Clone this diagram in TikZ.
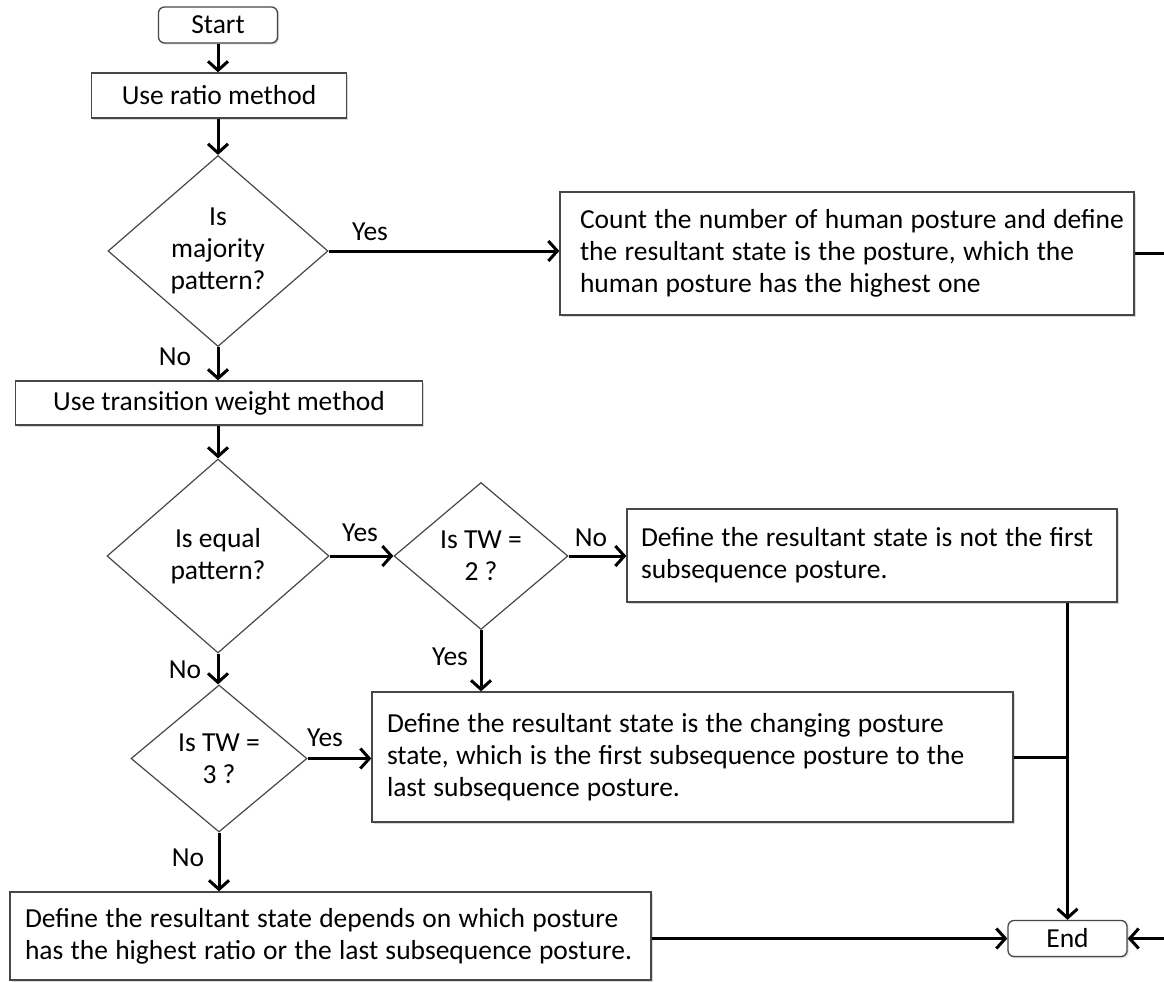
\documentclass[tikz,border=0pt]{standalone}
\usepackage{fontspec}
\setmainfont{Carlito}
\usetikzlibrary{shapes.geometric,arrows.meta,shadows}

% one unbreakable line of box text, with slightly tighter word spacing
\newcommand{\oneline}[1]{\mbox{\spaceskip=0.265em\relax #1}}

\begin{document}
\begin{tikzpicture}[x=1pt,y=-1pt,
  every node/.style={font=\fontsize{27.5}{32}\selectfont, text=black},
  shade box/.style={drop shadow={shadow xshift=1.5pt,shadow yshift=-1.5pt,opacity=0.3}},
  box/.style={rectangle, draw=black!72, line width=1.3pt, fill=white, inner ysep=0pt, shade box},
  termbox/.style={box, rounded corners=6pt, minimum width=119pt, minimum height=36pt, inner xsep=0pt},
  stepbox/.style={box, inner xsep=0pt, align=center},
  textbox/.style={box, inner xsep=15pt, align=left},
  decision/.style={diamond, draw=black!72, line width=1.2pt, fill=white, inner sep=0pt, align=center},
  lbl/.style={inner sep=0pt},
  line/.style={draw=black, line width=3pt},
  arr/.style={line, -{Straight Barb[length=9pt,width=20pt]}}
]
% canvas
\path[use as bounding box, fill=white] (0,0) rectangle (1164,982);
\clip (0,0) rectangle (1164,982);

% terminals and process steps
\node[termbox] (start) at (218,25) {Start};
\node[stepbox, minimum width=255pt, minimum height=45pt] (ratio) at (219,95.5) {Use ratio method};
\node[decision, minimum width=220pt, minimum height=191pt] (d1) at (218,251) {Is\\majority\\pattern?};
\node[textbox, inner xsep=20pt, minimum width=574pt, text width=534pt, minimum height=123pt] (count) at (847,253.5)
  {\oneline{Count the number of human posture and define}\\
   \oneline{the resultant state is the posture, which the}\\
   \oneline{human posture has the highest one}};
\node[stepbox, minimum width=407pt, minimum height=44pt] (trans) at (219,403) {Use transition weight method};
\node[decision, minimum width=222pt, minimum height=194pt] (d2) at (218,556) {Is equal\\pattern?};
\node[decision, minimum width=174pt, minimum height=147pt] (d3) at (481,556) {Is TW =\\2 ?};
\node[textbox, inner xsep=14pt, minimum width=490pt, text width=462pt, minimum height=93pt] (notfirst) at (872,555.5)
  {\oneline{Define the resultant state is not the first}\\
   \oneline{subsequence posture.}};
\node[decision, minimum width=176pt, minimum height=147pt] (d4) at (219,758.5) {Is TW =\\3 ?};
\node[textbox, minimum width=641pt, text width=611pt, minimum height=130pt] (changing) at (692.5,757)
  {\oneline{Define the resultant state is the changing posture}\\
   \oneline{state, which is the first subsequence posture to the}\\
   \oneline{last subsequence posture.}};
\node[textbox, minimum width=641pt, text width=611pt, minimum height=88pt] (bottom) at (330.5,936)
  {\oneline{Define the resultant state depends on which posture}\\
   \oneline{has the highest ratio or the last subsequence posture.}};
\node[termbox] (end) at (1067.5,938.5) {End};

% branch labels
\node[lbl] (yes1) at (370,232) {Yes};
\node[lbl] (no1) at (175,357) {No};
\node[lbl] (yes2) at (360,533) {Yes};
\node[lbl] (no2) at (591,538) {No};
\node[lbl] (yes3) at (450,657) {Yes};
\node[lbl] (no3) at (185,670) {No};
\node[lbl] (yes4) at (325,738) {Yes};
\node[lbl] (no4) at (188,858) {No};

% rail on the right side, beyond the visible edge
\coordinate (rail) at (1190,600);

% connectors
\draw[arr] (start.south) -- (start.south |- ratio.north);
\draw[arr] (d1.north |- ratio.south) -- (d1.north);
\draw[arr] (d1.east) -- (d1.east -| count.west);
\draw[arr] (d1.south) -- (d1.south |- trans.north);
\draw[arr] (d2.north |- trans.south) -- (d2.north);
\draw[arr] (d2.east) -- (d3.west);
\draw[arr] (d3.east) -- (d3.east -| notfirst.west);
\draw[arr] (d3.south) -- (d3.south |- changing.north);
\draw[arr] (d2.south) -- (d2.south |- d4.north);
\draw[arr] (d4.east) -- (d4.east -| changing.west);
\draw[arr] (d4.south) -- (d4.south |- bottom.north);
\draw[line] (changing.east) -- (changing.east -| end.north);
\draw[arr] (end.north |- notfirst.south) -- (end.north);
\draw[arr] (end.west -| bottom.east) -- (end.west);
\draw[arr] (count.east) -- (count.east -| rail) -- (end.east -| rail) -- (end.east);
\end{tikzpicture}
\end{document}
